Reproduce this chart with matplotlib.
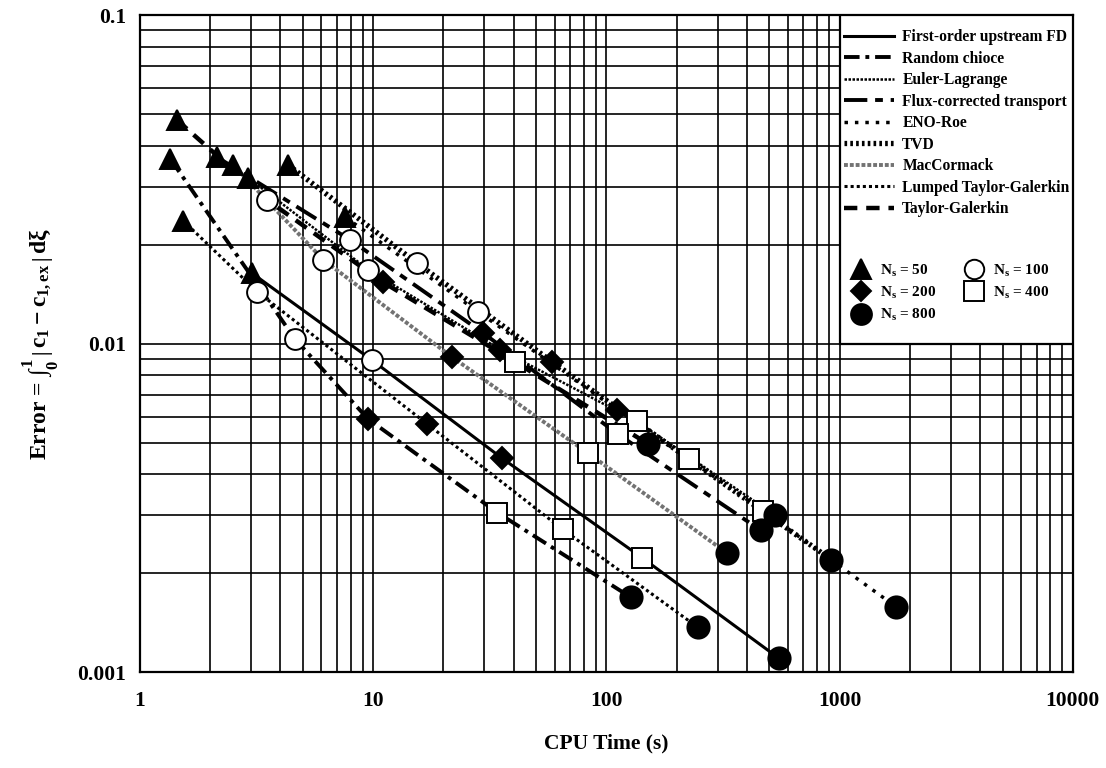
import matplotlib
matplotlib.use("Agg")
import matplotlib.pyplot as plt
from matplotlib.lines import Line2D
from matplotlib.patches import Rectangle

plt.rcParams['font.family'] = 'Liberation Serif'
plt.rcParams['font.weight'] = 'bold'
plt.rcParams['axes.labelweight'] = 'bold'
plt.rcParams['mathtext.fontset'] = 'custom'
plt.rcParams['mathtext.rm'] = 'Liberation Serif:bold'
plt.rcParams['mathtext.it'] = 'Liberation Serif:bold'
plt.rcParams['mathtext.bf'] = 'Liberation Serif:bold'

# grid sizes, one marker per grid size
ns_values = [50, 100, 200, 400, 800]

# CPU time (s) and error for each scheme, ordered Ns = 50, 100, 200, 400, 800
cpu_first_order = [3.02, 9.9, 35.8, 142, 550]
err_first_order = [0.0164, 0.0089, 0.00447, 0.00223, 0.0011]

cpu_random = [1.35, 4.63, 9.5, 34, 127]
err_random = [0.0365, 0.0103, 0.0059, 0.00306, 0.00169]

cpu_euler = [2.91, 9.53, 35.0, 135, 530]
err_euler = [0.032, 0.0168, 0.0096, 0.0058, 0.003]

cpu_fct = [2.14, 7.97, 29.5, 112, 460]
err_fct = [0.037, 0.0207, 0.0108, 0.0053, 0.0027]

cpu_eno = [7.58, 28.2, 111, 470, 1745]
err_eno = [0.0243, 0.0125, 0.0063, 0.0031, 0.00158]

cpu_tvd = [4.32, 15.4, 58.6, 225, 920]
err_tvd = [0.035, 0.0176, 0.0088, 0.00446, 0.0022]

cpu_mac = [2.51, 6.11, 21.8, 83, 330]
err_mac = [0.035, 0.018, 0.0091, 0.00465, 0.0023]

cpu_lumped = [1.53, 3.18, 17, 64.9, 246]
err_lumped = [0.0237, 0.0144, 0.0057, 0.00272, 0.00137]

cpu_tg = [1.44, 3.51, 11.0, 40.6, 151]
err_tg = [0.048, 0.0274, 0.0154, 0.0088, 0.00495]

scheme_names = ["First-order upstream FD", "Random chioce", "Euler-Lagrange",
                "Flux-corrected transport", "ENO-Roe", "TVD", "MacCormack",
                "Lumped Taylor-Galerkin", "Taylor-Galerkin"]
scheme_cpu = [cpu_first_order, cpu_random, cpu_euler, cpu_fct, cpu_eno,
              cpu_tvd, cpu_mac, cpu_lumped, cpu_tg]
scheme_err = [err_first_order, err_random, err_euler, err_fct, err_eno,
              err_tvd, err_mac, err_lumped, err_tg]

# line styles, roughly like the printed ones
styles = [
    dict(color='k', lw=2.2, ls='-'),
    dict(color='k', lw=2.8, ls=(0, (4, 1.5, 1, 1.5))),
    dict(color='k', lw=1.8, ls=(0, (1, 0.6))),
    dict(color='k', lw=2.8, ls=(0, (6, 2, 2, 2))),
    dict(color='k', lw=2.5, ls=(0, (1, 2))),
    dict(color='k', lw=3.8, ls=(0, (0.5, 0.6))),
    dict(color='0.45', lw=2.8, ls=(0, (1, 0.5))),
    dict(color='k', lw=2.2, ls=(0, (1, 1))),
    dict(color='k', lw=3.2, ls=(0, (3, 2))),
]

markers = ['^', 'o', 'D', 's', 'o']
faces = ['k', 'w', 'k', 'w', 'k']
sizes = [15, 15, 11, 15, 16]

fig = plt.figure(figsize=(11.06, 7.68), dpi=100)
ax = fig.add_axes([0.1266, 0.125, 0.8434, 0.855])

for cpu, err, st in zip(scheme_cpu, scheme_err, styles):
    ax.plot(cpu, err, zorder=3, **st)

for i in range(len(ns_values)):
    xs = [c[i] for c in scheme_cpu]
    ys = [e[i] for e in scheme_err]
    ax.plot(xs, ys, ls='none', marker=markers[i], ms=sizes[i],
            mfc=faces[i], mec='k', mew=1.4, zorder=4)

ax.set_xscale('log')
ax.set_yscale('log')
ax.set_xlim(1, 10000)
ax.set_ylim(0.001, 0.1)
ax.grid(True, which='both', color='k', lw=1.2)
ax.set_axisbelow(True)
for sp in ax.spines.values():
    sp.set_linewidth(1.6)

ax.set_xticks([1, 10, 100, 1000, 10000])
ax.set_xticklabels(['1', '10', '100', '1000', '10000'])
ax.set_yticks([0.001, 0.01, 0.1])
ax.set_yticklabels(['0.001', '0.01', '0.1'])
ax.tick_params(which='both', length=0)
ax.tick_params(axis='x', pad=14, labelsize=15.5)
ax.tick_params(axis='y', pad=10, labelsize=15.5)

ax.set_xlabel('CPU Time (s)', fontsize=15.5, fontweight='bold', labelpad=16)
ax.set_ylabel(r'Error = $\int_0^{1}\,\left|\,\mathrm{c}_1 - \mathrm{c}_{1,ex}\,\right|\,\mathrm{d}\xi$',
              fontsize=17, fontweight='bold', labelpad=12)

# legend box
ax.add_patch(Rectangle((0.75, 0.5), 0.25, 0.5, transform=ax.transAxes,
                       fc='w', ec='k', lw=1.6, zorder=5))

line_handles = [Line2D([], [], **st) for st in styles]
leg1 = ax.legend(line_handles, scheme_names, loc='upper left',
                 bbox_to_anchor=(0.748, 0.988), frameon=False,
                 prop=dict(family='Liberation Serif', weight='bold', size=11.2),
                 handlelength=3.2, handletextpad=0.55, labelspacing=0.35,
                 borderaxespad=0)
leg1.set_zorder(6)
ax.add_artist(leg1)

mk_handles = []
mk_labels = []
for i in [0, 2, 4, 1, 3]:
    mk_handles.append(Line2D([], [], ls='none', marker=markers[i], ms=sizes[i] - 1,
                             mfc=faces[i], mec='k', mew=1.4))
    mk_labels.append(r'N$_{\rm s}$ = %d' % ns_values[i])
leg2 = ax.legend(mk_handles, mk_labels, loc='upper left', ncol=2,
                 bbox_to_anchor=(0.757, 0.633), frameon=False,
                 prop=dict(family='Liberation Serif', weight='bold', size=11),
                 handlelength=1.2, handletextpad=0.6, labelspacing=0.4,
                 columnspacing=1.9, borderaxespad=0)
leg2.set_zorder(6)

fig.savefig('out.png', dpi=100)
